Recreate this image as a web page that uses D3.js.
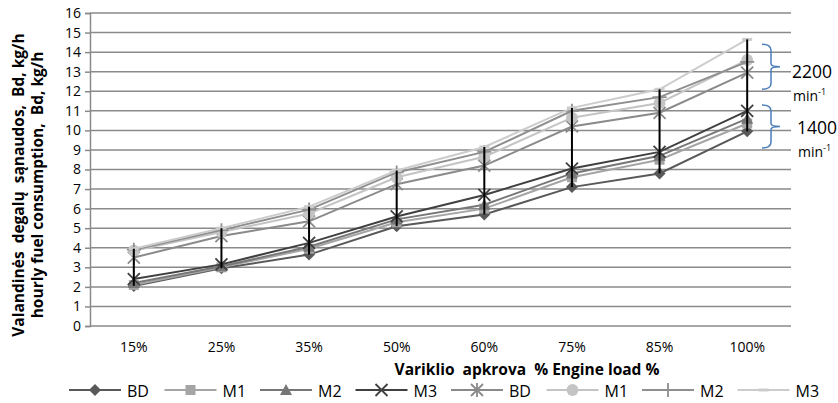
<!DOCTYPE html>
<html>
<head>
<meta charset="utf-8">
<script src="https://cdn.jsdelivr.net/npm/d3@7"></script>
<style>
  body { margin: 0; background: #fff; }
  svg { font-family: "Open Sans", Lato, sans-serif; }
  text { white-space: pre; }
</style>
</head>
<body>
<div id="chart"></div>
<script>
// chart data
var categories = ["15%", "25%", "35%", "50%", "60%", "75%", "85%", "100%"];
var yTicks = [0, 1, 2, 3, 4, 5, 6, 7, 8, 9, 10, 11, 12, 13, 14, 15, 16];

// 1400 min-1 group
var bd1400 = [2.05, 2.95, 3.65, 5.1, 5.7, 7.1, 7.8, 9.95];
var m1_1400 = [2.1, 3.0, 3.95, 5.3, 6.0, 7.6, 8.5, 10.35];
var m2_1400 = [2.2, 3.05, 4.05, 5.45, 6.2, 7.8, 8.7, 10.6];
var m3_1400 = [2.4, 3.15, 4.25, 5.6, 6.7, 8.05, 8.9, 11.0];
// 2200 min-1 group
var bd2200 = [3.5, 4.6, 5.35, 7.25, 8.2, 10.2, 10.9, 12.95];
var m1_2200 = [3.85, 4.8, 5.75, 7.6, 8.65, 10.65, 11.4, 13.6];
var m2_2200 = [3.9, 4.9, 5.95, 7.85, 8.9, 11.0, 11.7, 13.5];
var m3_2200 = [3.95, 5.0, 6.1, 7.95, 9.15, 11.15, 12.1, 14.65];

var seriesNames = ["BD", "M1", "M2", "M3", "BD", "M1", "M2", "M3"];

// bracket annotations [top, bottom] in data units
var bracket2200 = [14.4, 12.1];
var bracket1400 = [11.3, 9.1];

function init() {
    var w = 838, h = 403;
    var svg = d3.select("#chart").append("svg")
        .attr("width", w)
        .attr("height", h);

    var x = d3.scaleBand().domain(categories).range([90, 791]);
    var y = d3.scaleLinear().domain([0, 16]).range([326, 13]);
    var cx = d => x(d) + x.bandwidth() / 2;

    var series = [
        { name: seriesNames[0], values: bd1400, color: "#595959", marker: "diamond" },
        { name: seriesNames[1], values: m1_1400, color: "#a5a5a5", marker: "square" },
        { name: seriesNames[2], values: m2_1400, color: "#777777", marker: "triangle" },
        { name: seriesNames[3], values: m3_1400, color: "#404040", marker: "x" },
        { name: seriesNames[4], values: bd2200, color: "#8a8a8a", marker: "star" },
        { name: seriesNames[5], values: m1_2200, color: "#c4c4c4", marker: "circle" },
        { name: seriesNames[6], values: m2_2200, color: "#8f8f8f", marker: "plus" },
        { name: seriesNames[7], values: m3_2200, color: "#cccccc", marker: "dash" }
    ];

    // gridlines
    svg.append("g").selectAll("line")
        .data(yTicks)
        .enter().append("line")
        .attr("x1", 90).attr("x2", 791)
        .attr("y1", d => y(d)).attr("y2", d => y(d))
        .attr("stroke", "#8a8a8a")
        .attr("stroke-width", 1.5);

    // y axis
    var yAxis = svg.append("g")
        .attr("transform", "translate(90,0)")
        .call(d3.axisLeft(y).tickValues(yTicks).tickSize(5).tickPadding(4));
    yAxis.select(".domain").attr("stroke", "#8a8a8a").attr("stroke-width", 1.5);
    yAxis.selectAll(".tick line").attr("stroke", "#8a8a8a").attr("stroke-width", 1.5);
    yAxis.selectAll("text").attr("font-size", 14).attr("fill", "#000")
        .attr("font-family", "'Open Sans', sans-serif");

    // x labels
    svg.append("g").selectAll("text")
        .data(categories)
        .enter().append("text")
        .attr("x", d => cx(d))
        .attr("y", 352)
        .attr("text-anchor", "middle")
        .attr("font-size", 14)
        .text(d => d);

    // axis titles
    svg.append("text")
        .attr("x", 527).attr("y", 375)
        .attr("text-anchor", "middle")
        .attr("font-size", 15.5).attr("font-weight", "bold")
        .text("Variklio  apkrova  % Engine load %");

    var yt = svg.append("g").attr("transform", "translate(0,185) rotate(-90)");
    yt.append("text").attr("x", 0).attr("y", 24)
        .attr("text-anchor", "middle")
        .attr("font-size", 15.5).attr("font-weight", "bold")
        .text("Valandinės  degalų  sąnaudos,  Bd, kg/h");
    yt.append("text").attr("x", 0).attr("y", 43)
        .attr("text-anchor", "middle")
        .attr("font-size", 15.5).attr("font-weight", "bold")
        .text("hourly fuel consumption,  Bd, kg/h");

    // marker shapes
    function markerPath(type) {
        switch (type) {
            case "diamond": return "M0,-6L6,0L0,6L-6,0Z";
            case "square": return "M-5,-5H5V5H-5Z";
            case "triangle": return "M0,-6L6,5H-6Z";
            case "circle": return d3.symbol(d3.symbolCircle, 110)();
            case "x": return "M-6,-6L6,6M-6,6L6,-6";
            case "star": return "M-6,-6L6,6M-6,6L6,-6M0,-7V7";
            case "plus": return "M-7,0H7M0,-7V7";
            case "dash": return "M-5,-1.5H5V1.5H-5Z";
        }
    }
    var filled = { diamond: 1, square: 1, triangle: 1, circle: 1, dash: 1 };

    var line = d3.line().x((d, i) => cx(categories[i])).y(d => y(d));

    series.forEach(s => {
        var g = svg.append("g");
        g.append("path")
            .datum(s.values)
            .attr("d", line)
            .attr("fill", "none")
            .attr("stroke", s.color)
            .attr("stroke-width", 2);
        g.selectAll(".mk")
            .data(s.values)
            .enter().append("path")
            .attr("transform", (d, i) => `translate(${cx(categories[i])},${y(d)})`)
            .attr("d", markerPath(s.marker))
            .attr("fill", filled[s.marker] ? s.color : "none")
            .attr("stroke", s.color)
            .attr("stroke-width", filled[s.marker] ? 0 : 1.8);
    });

    // high-low lines
    svg.append("g").selectAll("line")
        .data(categories)
        .enter().append("line")
        .attr("x1", d => cx(d)).attr("x2", d => cx(d))
        .attr("y1", (d, i) => y(d3.min(series, s => s.values[i])))
        .attr("y2", (d, i) => y(d3.max(series, s => s.values[i])))
        .attr("stroke", "#000")
        .attr("stroke-width", 2);

    // brackets
    function brace(top, bottom) {
        var t = y(top), b = y(bottom), m = (t + b) / 2;
        return `M762,${t} Q771,${t} 771,${t + 6} L771,${m - 3} Q771,${m} 780,${m} Q771,${m} 771,${m + 3} L771,${b - 6} Q771,${b} 762,${b}`;
    }
    [bracket2200, bracket1400].forEach(br => {
        svg.append("path")
            .attr("d", brace(br[0], br[1]))
            .attr("fill", "none")
            .attr("stroke", "#4a7ebb")
            .attr("stroke-width", 1.5);
    });

    function rpmLabel(x0, yv, txt) {
        svg.append("text").attr("x", x0).attr("y", y(yv) + 6)
            .attr("font-size", 17.5).text(txt);
        var t = svg.append("text").attr("x", x0 + 1).attr("y", y(yv) + 29)
            .attr("font-size", 14).text("min");
        t.append("tspan").attr("dy", -6).attr("font-size", 9).text("-1");
    }
    rpmLabel(792, 13.0, "2200");
    rpmLabel(797, 10.1, "1400");

    // legend
    var legend = svg.append("g");
    series.forEach((s, i) => {
        var mx = 95 + i * 95.5;
        var lg = legend.append("g").attr("transform", `translate(${mx},390)`);
        lg.append("line").attr("x1", -26).attr("x2", 26)
            .attr("stroke", s.color).attr("stroke-width", 2);
        lg.append("path").attr("d", markerPath(s.marker))
            .attr("fill", filled[s.marker] ? s.color : "none")
            .attr("stroke", s.color)
            .attr("stroke-width", filled[s.marker] ? 0 : 1.8);
        lg.append("text").attr("x", 32).attr("y", 7)
            .attr("font-size", 16).text(s.name);
    });
}

window.onload = init;
</script>
</body>
</html>
